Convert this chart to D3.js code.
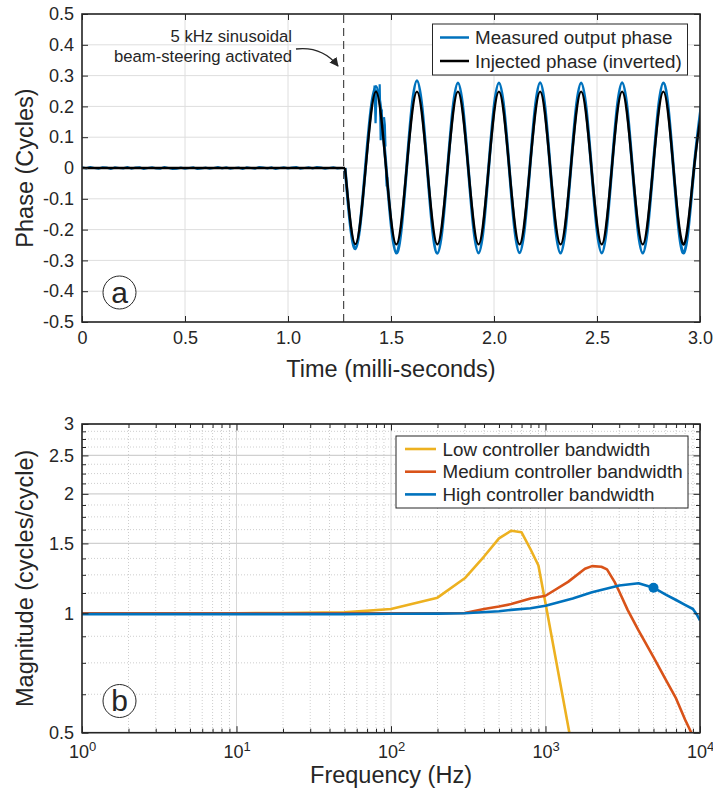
<!DOCTYPE html>
<html>
<head>
<meta charset="utf-8">
<script src="https://cdn.jsdelivr.net/npm/d3@7.9.0/dist/d3.min.js"></script>
<style>
  body { margin: 0; background: #fff; }
  svg { display: block; }
</style>
</head>
<body>
<svg id="chart" width="713" height="793"></svg>
<script>
// ---------- panel (a) data ----------
const timeTicks = [0, 0.5, 1.0, 1.5, 2.0, 2.5, 3.0];
const timeLabels = ['0', '0.5', '1.0', '1.5', '2.0', '2.5', '3.0'];
const phaseTicks = [-0.5, -0.4, -0.3, -0.2, -0.1, 0, 0.1, 0.2, 0.3, 0.4, 0.5];
const phaseLabels = ['-0.5', '-0.4', '-0.3', '-0.2', '-0.1', '0', '0.1', '0.2', '0.3', '0.4', '0.5'];
const activationTime = 1.27;

// measured phase before activation (sampled every 0.02 ms)
const noisePhase = [0.002, -0.001, 0.003, 0.000, -0.002, 0.002, 0.001, -0.003, 0.002, 0.000,
  -0.001, 0.003, -0.002, 0.001, 0.002, -0.003, 0.000, 0.002, -0.001, -0.002,
  0.003, 0.000, -0.003, -0.002, 0.001, -0.002, 0.000, 0.002, -0.003, -0.001,
  0.001, -0.002, 0.000, 0.003, -0.001, 0.002, -0.002, 0.000, 0.001, -0.003,
  0.002, 0.000, -0.002, 0.003, 0.001, -0.001, 0.002, -0.003, 0.000, 0.002,
  -0.001, 0.001, 0.003, -0.002, 0.000, 0.002, -0.001, 0.003, 0.001, -0.002,
  0.000, 0.002, -0.001, 0.000];

// zero crossings / extremes of the 5 kHz steering signal
const sineTime = [1.277, 1.327, 1.377, 1.427, 1.476, 1.526, 1.576, 1.626, 1.676, 1.725,
  1.775, 1.825, 1.875, 1.925, 1.974, 2.024, 2.074, 2.124, 2.174, 2.224,
  2.273, 2.323, 2.373, 2.423, 2.473, 2.523, 2.572, 2.622, 2.672, 2.722,
  2.772, 2.822, 2.871, 2.921, 2.971, 3.021];
const injectedPhase = [0, -0.247, 0, 0.248, 0, -0.248, 0, 0.248, 0, -0.248,
  0, 0.248, 0, -0.248, 0, 0.248, 0, -0.248, 0, 0.248,
  0, -0.248, 0, 0.248, 0, -0.248, 0, 0.248, 0, -0.248,
  0, 0.248, 0, -0.248, 0, 0.248];
const measuredPhase = [0, -0.262, 0.01, 0.265, 0.005, -0.276, 0, 0.283, 0, -0.277,
  0, 0.276, 0, -0.276, 0, 0.276, 0, -0.275, 0, 0.277,
  0, -0.276, 0, 0.276, 0, -0.276, 0, 0.277, 0, -0.276,
  0, 0.276, 0, -0.276, 0, 0.276];

// short spikes on the first measured peak
const glitchTime = [1.420, 1.425, 1.430, null, 1.445, 1.450, 1.455, null, 1.466, 1.470, 1.473, null, 1.476, 1.479, 1.482];
const glitchPhase = [0.268, 0.145, 0.255, null, 0.272, 0.09, 0.19, null, 0.165, 0.14, 0.07, null, -0.01, -0.06, -0.03];

// ---------- panel (b) data ----------
const freqTicks = [1, 10, 100, 1000, 10000];
const freqExp = ['0', '1', '2', '3', '4'];
const magTicks = [0.5, 1, 1.5, 2, 2.5, 3];
const magLabels = ['0.5', '1', '1.5', '2', '2.5', '3'];

const lowFreq = [1, 2, 5, 10, 20, 50, 100, 200, 300, 400, 500, 600, 700, 800, 900, 1000, 1500];
const lowMag = [1.0, 1.0, 1.0, 1.0, 1.002, 1.005, 1.025, 1.095, 1.225, 1.39, 1.545, 1.615, 1.6, 1.45, 1.32, 1.06, 0.45];

const medFreq = [1, 10, 100, 300, 400, 500, 600, 800, 1000, 1400, 1800, 2000, 2300, 2500, 2800, 3000, 3400, 4000, 5000, 6000, 7000, 8000, 9000, 10000];
const medMag = [1.0, 1.0, 1.0, 1.002, 1.025, 1.04, 1.055, 1.09, 1.107, 1.2, 1.295, 1.315, 1.31, 1.29, 1.2, 1.135, 1.02, 0.905, 0.775, 0.68, 0.61, 0.54, 0.49, 0.44];

const highFreq = [1, 10, 50, 100, 200, 300, 500, 600, 800, 1000, 1500, 2000, 3000, 4000, 5000, 6000, 7000, 8000, 9000, 9500, 10000];
const highMag = [0.995, 0.995, 0.995, 0.997, 0.998, 1.0, 1.012, 1.02, 1.03, 1.045, 1.09, 1.13, 1.175, 1.19, 1.16, 1.115, 1.08, 1.05, 1.025, 0.995, 0.96];

const markerFreq = 5000;
const markerMag = 1.16;

// ---------- drawing ----------
const svg = d3.select('#chart');
const font = '"Liberation Sans", Arial, Helvetica, sans-serif';
const ink = '#262626';
const blue = '#0072BD', orange = '#D95319', yellow = '#EDB120';
const tickSize = 18, legendSize = 18.8, titleSize = 23.5;

function styleAxis(g, size) {
    g.select('.domain').remove();
    g.selectAll('.tick line').attr('stroke', ink).attr('stroke-width', 1);
    g.selectAll('.tick text')
        .attr('fill', ink)
        .style('font-size', size + 'px')
        .style('font-family', font);
    return g;
}

function circledLabel(cx, cy, letter) {
    svg.append('circle')
        .attr('cx', cx).attr('cy', cy).attr('r', 16.5)
        .attr('fill', '#fff').attr('stroke', ink).attr('stroke-width', 1);
    svg.append('text')
        .attr('x', cx).attr('y', cy + 10)
        .attr('text-anchor', 'middle')
        .style('font-family', font).style('font-size', '30px')
        .attr('fill', ink)
        .text(letter);
}

// ===== panel (a) =====
const A = { left: 82, right: 700, top: 14, bottom: 322 };
const xT = d3.scaleLinear().domain([0, 3]).range([A.left, A.right]);
const yP = d3.scaleLinear().domain([-0.5, 0.5]).range([A.bottom, A.top]);

svg.append('clipPath').attr('id', 'clipA')
    .append('rect').attr('x', A.left).attr('y', A.top)
    .attr('width', A.right - A.left).attr('height', A.bottom - A.top);

const gridA = svg.append('g').attr('stroke', '#dedede').attr('stroke-width', 1);
gridA.selectAll('.gx').data(timeTicks).join('line')
    .attr('x1', d => xT(d)).attr('x2', d => xT(d))
    .attr('y1', A.top).attr('y2', A.bottom);
gridA.selectAll('.gy').data(phaseTicks).join('line')
    .attr('x1', A.left).attr('x2', A.right)
    .attr('y1', d => yP(d)).attr('y2', d => yP(d));

svg.append('line')
    .attr('x1', xT(activationTime)).attr('x2', xT(activationTime))
    .attr('y1', A.top + 1).attr('y2', A.bottom)
    .attr('stroke', '#4a4a4a').attr('stroke-width', 1.2)
    .attr('stroke-dasharray', '8,5');

const plotA = svg.append('g').attr('clip-path', 'url(#clipA)');

const flatMeasured = noisePhase.map((v, i) => [i * 0.02, v]);
flatMeasured.push([sineTime[0], measuredPhase[0]]);
const sineMeasured = sineTime.map((t, i) => [t, measuredPhase[i]]);
const sineInjected = sineTime.map((t, i) => [t, injectedPhase[i]]);
const glitches = glitchTime.map((t, i) => [t, glitchPhase[i]]);

const lineLin = d3.line().x(d => xT(d[0])).y(d => yP(d[1]));
const lineSmooth = d3.line().x(d => xT(d[0])).y(d => yP(d[1])).curve(d3.curveNatural);
const lineGap = d3.line().defined(d => d[0] != null).x(d => xT(d[0])).y(d => yP(d[1]));

plotA.append('path').attr('d', lineLin(flatMeasured))
    .attr('fill', 'none').attr('stroke', blue).attr('stroke-width', 2.2);
plotA.append('path').attr('d', lineSmooth(sineMeasured))
    .attr('fill', 'none').attr('stroke', blue).attr('stroke-width', 3);
plotA.append('path').attr('d', lineGap(glitches))
    .attr('fill', 'none').attr('stroke', blue).attr('stroke-width', 2.2);

plotA.append('path').attr('d', lineLin([[0, 0], [sineTime[0], injectedPhase[0]]]))
    .attr('fill', 'none').attr('stroke', '#000').attr('stroke-width', 2.4);
plotA.append('path').attr('d', lineSmooth(sineInjected))
    .attr('fill', 'none').attr('stroke', '#000').attr('stroke-width', 2.4);

// axes (ticks point inward)
styleAxis(svg.append('g').attr('transform', `translate(0,${A.bottom})`)
    .call(d3.axisBottom(xT).tickValues(timeTicks).tickSize(-6).tickPadding(9)
        .tickFormat((d, i) => timeLabels[i])), tickSize);
styleAxis(svg.append('g').attr('transform', `translate(0,${A.top})`)
    .call(d3.axisTop(xT).tickValues(timeTicks).tickSize(-6).tickFormat(() => '')), tickSize);
styleAxis(svg.append('g').attr('transform', `translate(${A.left},0)`)
    .call(d3.axisLeft(yP).tickValues(phaseTicks).tickSize(-6).tickPadding(8)
        .tickFormat((d, i) => phaseLabels[i])), tickSize);
styleAxis(svg.append('g').attr('transform', `translate(${A.right},0)`)
    .call(d3.axisRight(yP).tickValues(phaseTicks).tickSize(-6).tickFormat(() => '')), tickSize);

svg.append('rect')
    .attr('x', A.left).attr('y', A.top)
    .attr('width', A.right - A.left).attr('height', A.bottom - A.top)
    .attr('fill', 'none').attr('stroke', ink).attr('stroke-width', 1.6);

// annotation
const note = svg.append('g').style('font-family', font).style('font-size', '16.7px').attr('fill', ink);
note.append('text').attr('x', 292).attr('y', 42).attr('text-anchor', 'end').text('5 kHz sinusoidal');
note.append('text').attr('x', 292).attr('y', 62).attr('text-anchor', 'end').text('beam-steering activated');

svg.append('defs').append('marker')
    .attr('id', 'arrow').attr('viewBox', '0 0 10 10')
    .attr('refX', 9).attr('refY', 5)
    .attr('markerWidth', 9).attr('markerHeight', 9)
    .attr('markerUnits', 'userSpaceOnUse')
    .attr('orient', 'auto')
    .append('path').attr('d', 'M0,0 L10,5 L0,10 Z').attr('fill', ink);
svg.append('path')
    .attr('d', 'M296,49 Q322,46 338,66')
    .attr('fill', 'none').attr('stroke', ink).attr('stroke-width', 1.3)
    .attr('marker-end', 'url(#arrow)');

// legend (a)
const legA = svg.append('g');
legA.append('rect').attr('x', 432.5).attr('y', 24).attr('width', 255).attr('height', 51)
    .attr('fill', '#fff').attr('stroke', ink).attr('stroke-width', 1);
[['Measured output phase', blue], ['Injected phase (inverted)', '#000']].forEach((d, i) => {
    const y = 37.5 + i * 23.5;
    legA.append('line').attr('x1', 440).attr('x2', 469).attr('y1', y).attr('y2', y)
        .attr('stroke', d[1]).attr('stroke-width', 2.5);
    legA.append('text').attr('x', 475).attr('y', y + 6.5)
        .style('font-family', font).style('font-size', legendSize + 'px').attr('fill', ink)
        .text(d[0]);
});

circledLabel(119.5, 292.5, 'a');

svg.append('text')
    .attr('x', (A.left + A.right) / 2).attr('y', 377)
    .attr('text-anchor', 'middle')
    .style('font-family', font).style('font-size', titleSize + 'px').attr('fill', ink)
    .text('Time (milli-seconds)');
svg.append('text')
    .attr('transform', `translate(33,${(A.top + A.bottom) / 2}) rotate(-90)`)
    .attr('text-anchor', 'middle')
    .style('font-family', font).style('font-size', titleSize + 'px').attr('fill', ink)
    .text('Phase (Cycles)');

// ===== panel (b) =====
const B = { left: 82, right: 700, top: 424, bottom: 732.7 };
const xF = d3.scaleLog().domain([1, 10000]).range([B.left, B.right]);
const yM = d3.scaleLog().domain([0.5, 3]).range([B.bottom, B.top]);

const minorFreq = [];
freqTicks.slice(0, -1).forEach(f => d3.range(2, 10).forEach(k => minorFreq.push(f * k)));
const minorMag = d3.range(0.5, 3.001, 0.125).filter(v => !magTicks.includes(v));

svg.append('clipPath').attr('id', 'clipB')
    .append('rect').attr('x', B.left).attr('y', B.top)
    .attr('width', B.right - B.left).attr('height', B.bottom - B.top);

const gridB = svg.append('g');
gridB.selectAll('.mx').data(minorFreq).join('line')
    .attr('x1', d => xF(d)).attr('x2', d => xF(d))
    .attr('y1', B.top).attr('y2', B.bottom)
    .attr('stroke', '#c8c8c8').attr('stroke-width', 0.9).attr('stroke-dasharray', '1,2');
gridB.selectAll('.my').data(minorMag).join('line')
    .attr('x1', B.left).attr('x2', B.right)
    .attr('y1', d => yM(d)).attr('y2', d => yM(d))
    .attr('stroke', '#c8c8c8').attr('stroke-width', 0.9).attr('stroke-dasharray', '1,2');
gridB.selectAll('.gx').data(freqTicks).join('line')
    .attr('x1', d => xF(d)).attr('x2', d => xF(d))
    .attr('y1', B.top).attr('y2', B.bottom)
    .attr('stroke', '#d6d6d6').attr('stroke-width', 1);
gridB.selectAll('.gy').data(magTicks).join('line')
    .attr('x1', B.left).attr('x2', B.right)
    .attr('y1', d => yM(d)).attr('y2', d => yM(d))
    .attr('stroke', '#d0d0d0').attr('stroke-width', 1.3);

const plotB = svg.append('g').attr('clip-path', 'url(#clipB)');
const lineF = d3.line().x(d => xF(d[0])).y(d => yM(d[1]));
[[lowFreq, lowMag, yellow], [medFreq, medMag, orange], [highFreq, highMag, blue]].forEach(s => {
    plotB.append('path')
        .attr('d', lineF(s[0].map((f, i) => [f, s[1][i]])))
        .attr('fill', 'none').attr('stroke', s[2]).attr('stroke-width', 2.6)
        .attr('stroke-linejoin', 'round');
});
plotB.append('circle')
    .attr('cx', xF(markerFreq)).attr('cy', yM(markerMag)).attr('r', 5)
    .attr('fill', blue);

// axes (b)
const xAxB = svg.append('g').attr('transform', `translate(0,${B.bottom})`)
    .call(d3.axisBottom(xF).tickValues(freqTicks).tickSize(-6.5).tickPadding(13).tickFormat(() => '10'));
styleAxis(xAxB, tickSize);
xAxB.selectAll('.tick text').append('tspan')
    .attr('dy', '-0.55em').style('font-size', '13px')
    .text((d, i) => freqExp[i]);
styleAxis(svg.append('g').attr('transform', `translate(0,${B.bottom})`)
    .call(d3.axisBottom(xF).tickValues(minorFreq).tickSize(-4).tickFormat(() => '')), tickSize);
styleAxis(svg.append('g').attr('transform', `translate(0,${B.top})`)
    .call(d3.axisTop(xF).tickValues(freqTicks).tickSize(-6.5).tickFormat(() => '')), tickSize);
styleAxis(svg.append('g').attr('transform', `translate(0,${B.top})`)
    .call(d3.axisTop(xF).tickValues(minorFreq).tickSize(-4).tickFormat(() => '')), tickSize);

styleAxis(svg.append('g').attr('transform', `translate(${B.left},0)`)
    .call(d3.axisLeft(yM).tickValues(magTicks).tickSize(-6.5).tickPadding(8)
        .tickFormat((d, i) => magLabels[i])), tickSize);
styleAxis(svg.append('g').attr('transform', `translate(${B.left},0)`)
    .call(d3.axisLeft(yM).tickValues(minorMag).tickSize(-4).tickFormat(() => '')), tickSize);
styleAxis(svg.append('g').attr('transform', `translate(${B.right},0)`)
    .call(d3.axisRight(yM).tickValues(magTicks).tickSize(-6.5).tickFormat(() => '')), tickSize);
styleAxis(svg.append('g').attr('transform', `translate(${B.right},0)`)
    .call(d3.axisRight(yM).tickValues(minorMag).tickSize(-4).tickFormat(() => '')), tickSize);

svg.append('rect')
    .attr('x', B.left).attr('y', B.top)
    .attr('width', B.right - B.left).attr('height', B.bottom - B.top)
    .attr('fill', 'none').attr('stroke', ink).attr('stroke-width', 1.6);

// legend (b)
const legB = svg.append('g');
legB.append('rect').attr('x', 396).attr('y', 436).attr('width', 292).attr('height', 72)
    .attr('fill', '#fff').attr('stroke', ink).attr('stroke-width', 1);
[['Low controller bandwidth', yellow], ['Medium controller bandwidth', orange], ['High controller bandwidth', blue]]
    .forEach((d, i) => {
        const y = 449 + i * 22.7;
        legB.append('line').attr('x1', 405).attr('x2', 436).attr('y1', y).attr('y2', y)
            .attr('stroke', d[1]).attr('stroke-width', 2.6);
        legB.append('text').attr('x', 442.5).attr('y', y + 6.5)
            .style('font-family', font).style('font-size', legendSize + 'px').attr('fill', ink)
            .text(d[0]);
    });

circledLabel(119.5, 701, 'b');

svg.append('text')
    .attr('x', (B.left + B.right) / 2).attr('y', 783)
    .attr('text-anchor', 'middle')
    .style('font-family', font).style('font-size', titleSize + 'px').attr('fill', ink)
    .text('Frequency (Hz)');
svg.append('text')
    .attr('transform', `translate(33,${(B.top + B.bottom) / 2}) rotate(-90)`)
    .attr('text-anchor', 'middle')
    .style('font-family', font).style('font-size', titleSize + 'px').attr('fill', ink)
    .text('Magnitude (cycles/cycle)');
</script>
</body>
</html>
